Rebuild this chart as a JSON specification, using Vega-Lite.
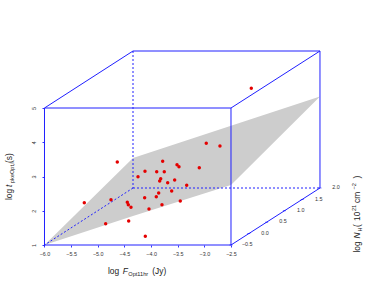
{"$schema":"https://vega.github.io/schema/vega-lite/v6.json","width":374,"height":307,"padding":0,"autosize":"none","background":"white","config":{"view":{"stroke":null},"font":"Liberation Sans"},
"layer":[
{"data":{"values":[{"x":-6,"top":1,"low":1},{"x":-4.339,"top":3.54,"low":1.847},{"x":-2.5,"top":4.48,"low":2.752},{"x":-0.83,"top":5.336,"low":5.336}]},
"mark":{"type":"area","color":"#cdcdcd","opacity":1},
"encoding":{"x":{"field":"x","type":"quantitative","scale":{"domain":[-6.835,0.1838],"nice":false,"zero":false},
"axis":{"orient":"bottom","offset":-62,"values":[-6,-5.5,-5,-4.5,-4,-3.5,-3,-2.5],"format":".1f","grid":false,"domain":false,"title":null,"tickColor":"#0000ff","tickSize":2,"tickWidth":0.8,"labelFontSize":5.4,"labelColor":"#333333","labelPadding":4.5,"labelOverlap":false,"labelFlush":false}},
"y":{"field":"top","type":"quantitative","scale":{"domain":[-0.8102,8.1533],"nice":false,"zero":false},
"axis":{"orient":"left","offset":-44.5,"values":[1,2,3,4,5],"format":"d","grid":false,"domain":false,"title":null,"tickColor":"#0000ff","tickSize":2.5,"tickWidth":0.8,"labelFontSize":5.4,"labelColor":"#333333","labelAngle":-90,"labelAlign":"center","labelBaseline":"bottom","labelPadding":6,"labelOverlap":false}},
"y2":{"field":"low"}}},
{"data":{"values":[{"x":-6,"y":1,"x2":-2.5,"y2":1},{"x":-6,"y":1,"x2":-6,"y2":5},{"x":-6,"y":5,"x2":-2.5,"y2":5},{"x":-2.5,"y":1,"x2":-2.5,"y2":5},{"x":-6,"y":5,"x2":-4.339,"y2":6.664},{"x":-4.339,"y":6.664,"x2":-0.83,"y2":6.664},{"x":-2.5,"y":5,"x2":-0.83,"y2":6.664},{"x":-0.83,"y":6.664,"x2":-0.83,"y2":2.664},{"x":-2.5,"y":1,"x2":-0.83,"y2":2.664}]},
"mark":{"type":"rule","color":"#2020ff","strokeWidth":1},
"encoding":{"x":{"field":"x","type":"quantitative"},"y":{"field":"y","type":"quantitative"},"x2":{"field":"x2"},"y2":{"field":"y2"}}},
{"data":{"values":[{"x":-4.339,"y":6.664,"x2":-4.339,"y2":2.664},{"x":-4.339,"y":2.664,"x2":-0.83,"y2":2.664},{"x":-4.339,"y":2.664,"x2":-6,"y2":1}]},
"mark":{"type":"rule","color":"#2020ff","strokeWidth":1,"strokeDash":[2,2]},
"encoding":{"x":{"field":"x","type":"quantitative"},"y":{"field":"y","type":"quantitative"},"x2":{"field":"x2"},"y2":{"field":"y2"}}},
{"data":{"values":[{"x":-2.5,"y":1},{"x":-2.166,"y":1.333},{"x":-1.832,"y":1.666},{"x":-1.498,"y":2.0},{"x":-1.164,"y":2.332},{"x":-0.83,"y":2.664}]},
"mark":{"type":"tick","orient":"horizontal","color":"#0000ff","size":3,"thickness":0.8},
"encoding":{"x":{"field":"x","type":"quantitative"},"y":{"field":"y","type":"quantitative"}}},
{"data":{"values":[{"x":-5.253,"y":2.235},{"x":-4.634,"y":3.423},{"x":-4.752,"y":2.323},{"x":-4.852,"y":1.622},{"x":-4.42,"y":1.701},{"x":-4.108,"y":1.254},{"x":-4.446,"y":2.247},{"x":-4.427,"y":2.177},{"x":-4.377,"y":2.101},{"x":-4.039,"y":2.051},{"x":-4.12,"y":2.381},{"x":-4.245,"y":2.994},{"x":-4.114,"y":3.152},{"x":-3.894,"y":3.14},{"x":-3.782,"y":3.444},{"x":-3.752,"y":3.14},{"x":-3.838,"y":2.869},{"x":-3.819,"y":2.936},{"x":-3.688,"y":2.819},{"x":-3.557,"y":2.898},{"x":-3.513,"y":3.345},{"x":-3.476,"y":3.286},{"x":-3.613,"y":2.577},{"x":-3.857,"y":2.518},{"x":-3.902,"y":2.41},{"x":-3.795,"y":2.177},{"x":-3.452,"y":2.285},{"x":-3.331,"y":2.743},{"x":-3.095,"y":3.257},{"x":-2.964,"y":3.969},{"x":-2.707,"y":3.891},{"x":-2.119,"y":5.575}]},
"mark":{"type":"circle","color":"#e40000","opacity":1,"size":12},
"encoding":{"x":{"field":"x","type":"quantitative"},"y":{"field":"y","type":"quantitative"}}},
{"data":{"values":[{"x":-2.194,"y":1.02,"t":"−0.5"},{"x":-1.862,"y":1.359,"t":"0.0"},{"x":-1.524,"y":1.692,"t":"0.5"},{"x":-1.192,"y":2.013,"t":"1.0"},{"x":-0.854,"y":2.352,"t":"1.5"},{"x":-0.53,"y":2.685,"t":"2.0"}]},
"mark":{"type":"text","fontSize":5.4,"color":"#333333","align":"center","baseline":"middle"},
"encoding":{"x":{"field":"x","type":"quantitative"},"y":{"field":"y","type":"quantitative"},"text":{"field":"t"}}},
{"data":{"values":[{"x":-4.808,"y":0.139,"t":"log"},{"x":-3.977,"y":0.139,"t":"(Jy)"}]},
"mark":{"type":"text","fontSize":8.4,"color":"#222222","align":"left","baseline":"alphabetic"},
"encoding":{"x":{"field":"x","type":"quantitative"},"y":{"field":"y","type":"quantitative"},"text":{"field":"t"}}},
{"data":{"values":[{"x":-4.532,"y":0.139,"t":"F"}]},
"mark":{"type":"text","fontSize":8.4,"fontStyle":"italic","color":"#222222","align":"left","baseline":"alphabetic"},
"encoding":{"x":{"field":"x","type":"quantitative"},"y":{"field":"y","type":"quantitative"},"text":{"field":"t"}}},
{"data":{"values":[{"x":-4.427,"y":0.095,"t":"Opt11hr"}]},
"mark":{"type":"text","fontSize":5.6,"color":"#222222","align":"left","baseline":"alphabetic"},
"encoding":{"x":{"field":"x","type":"quantitative"},"y":{"field":"y","type":"quantitative"},"text":{"field":"t"}}},
{"data":{"values":[{"x":-6.61,"y":2.314,"t":"log"},{"x":-6.61,"y":3.394,"t":"(s)"},{"x":-0.079,"y":0.78,"t":"log"},{"x":-0.079,"y":1.526,"t":"("},{"x":-0.079,"y":1.7,"t":"10"},{"x":-0.079,"y":2.226,"t":"cm"},{"x":-0.079,"y":2.942,"t":")"}]},
"mark":{"type":"text","fontSize":8.4,"angle":270,"color":"#222222","align":"left","baseline":"alphabetic"},
"encoding":{"x":{"field":"x","type":"quantitative"},"y":{"field":"y","type":"quantitative"},"text":{"field":"t"}}},
{"data":{"values":[{"x":-6.61,"y":2.693,"t":"t"},{"x":-0.079,"y":1.19,"t":"N"}]},
"mark":{"type":"text","fontSize":8.4,"fontStyle":"italic","angle":270,"color":"#222222","align":"left","baseline":"alphabetic"},
"encoding":{"x":{"field":"x","type":"quantitative"},"y":{"field":"y","type":"quantitative"},"text":{"field":"t"}}},
{"data":{"values":[{"x":-6.572,"y":2.81,"t":"pkeOpt,i"},{"x":-0.042,"y":1.394,"t":"H"},{"x":-0.154,"y":1.993,"t":"21"},{"x":-0.154,"y":2.62,"t":"−2"}]},
"mark":{"type":"text","fontSize":5.6,"angle":270,"color":"#222222","align":"left","baseline":"alphabetic"},
"encoding":{"x":{"field":"x","type":"quantitative"},"y":{"field":"y","type":"quantitative"},"text":{"field":"t"}}}
]}
